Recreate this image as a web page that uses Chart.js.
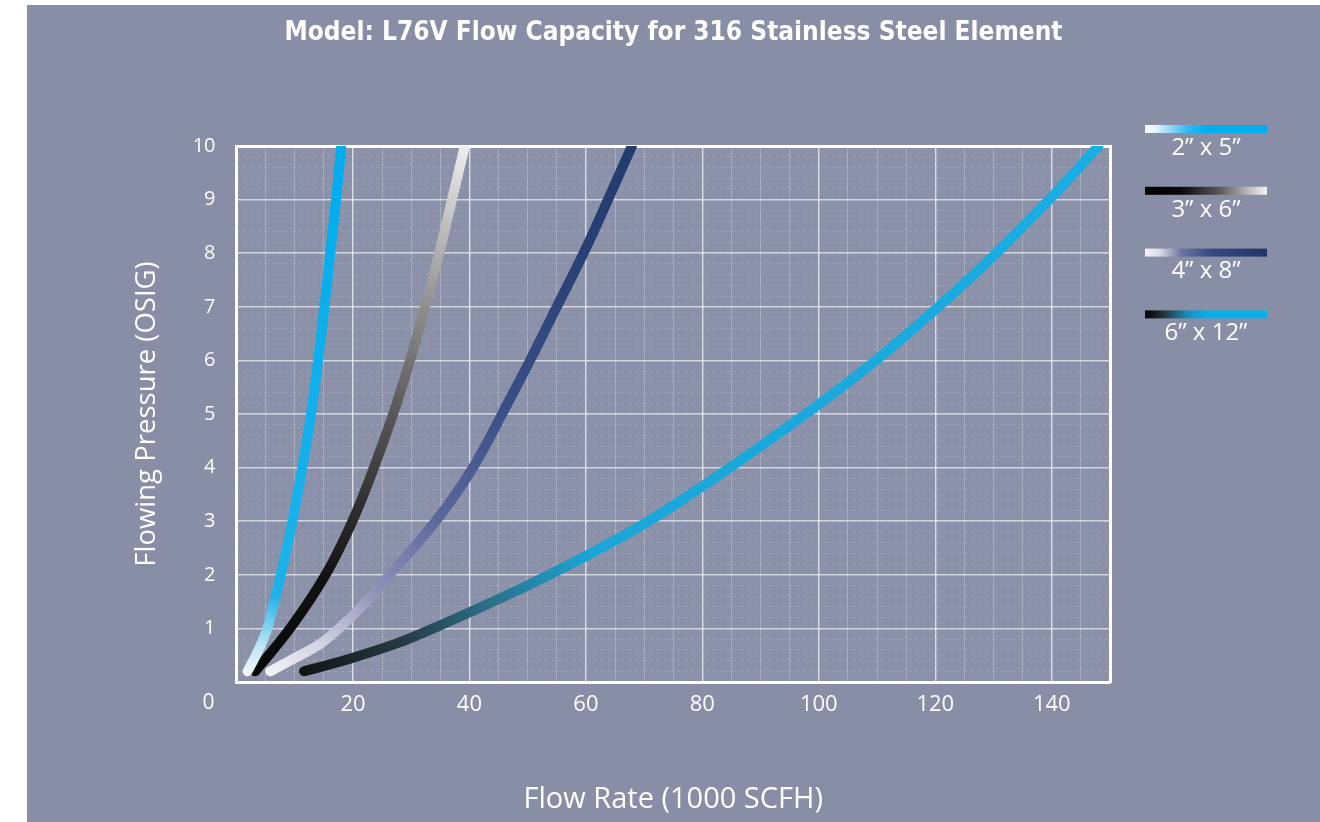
<!DOCTYPE html>
<html>
<head>
<meta charset="utf-8">
<script src="https://cdn.jsdelivr.net/npm/chart.js@4/dist/chart.umd.min.js"></script>
<style>
  html, body { margin: 0; padding: 0; background: #ffffff; }
  #panel { position: absolute; left: 27px; top: 5px; width: 1293px; height: 817px; background: #878ea5; }
</style>
</head>
<body>
<div id="panel"><canvas id="chart"></canvas></div>
<script>
// values, flow in 1000 SCFH, pressure in OSIG
const seriesNames = ['2\u201D x 5\u201D', '3\u201D x 6\u201D', '4\u201D x 8\u201D', '6\u201D x 12\u201D'];

const flow2x5 = [1.9, 3.8, 5.3, 6.5, 7.6, 9.6, 11.3, 12.8, 14.0, 15.1, 16.1, 17.1, 18.0];
const pressure2x5 = [0.2, 0.6, 1, 1.5, 2, 3, 4, 5, 6, 7, 8, 9, 10];

const flow3x6 = [3.2, 9.2, 15.3, 19.9, 23.6, 26.9, 29.8, 32.4, 34.8, 37.0, 39.2];
const pressure3x6 = [0.2, 1, 2, 3, 4, 5, 6, 7, 8, 9, 10];

const flow4x8 = [5.8, 9.2, 14.2, 17.6, 22.3, 26.3, 30.4, 34.2, 37.6, 40.6, 43.2, 45.6, 50.4, 55.0, 59.6, 63.8, 67.9];
const pressure4x8 = [0.2, 0.4, 0.7, 1, 1.5, 2, 2.5, 3, 3.5, 4, 4.5, 5, 6, 7, 8, 9, 10];

const flow6x12 = [11.6, 19, 27.5, 34.4, 40, 50, 60, 70, 80, 90, 100, 110, 120, 130, 140, 148];
const pressure6x12 = [0.2, 0.42, 0.72, 1.03, 1.3, 1.8, 2.35, 2.95, 3.65, 4.4, 5.18, 6.02, 6.95, 7.95, 9.05, 10];

const xTicks = [20, 40, 60, 80, 100, 120, 140];
const yTicks = [1, 2, 3, 4, 5, 6, 7, 8, 9, 10];

// gradient stops along each curve (start -> end) and along each legend swatch
const curveStops = [
  [[0, '#eef6f9'], [0.05, '#bfe5f3'], [0.15, '#1cb2ea'], [1, '#00adee']],
  [[0, '#080808'], [0.2, '#121212'], [0.36, '#343434'], [0.52, '#5a5a5a'], [0.7, '#8c8c8c'], [0.88, '#c6c6c6'], [1, '#eeeeee']],
  [[0, '#f2f2f6'], [0.08, '#d2d2e2'], [0.2, '#8f91b6'], [0.35, '#5b679c'], [0.55, '#3a4f88'], [0.8, '#2a4178'], [1, '#223a6c']],
  [[0, '#141414'], [0.1, '#243a42'], [0.2, '#2b7088'], [0.32, '#1aa6d8'], [1, '#18ade3']]
];
const legendStops = [
  [[0, '#ffffff'], [0.1, '#dcf1fa'], [0.35, '#2cbaf0'], [0.5, '#00aeef'], [1, '#00aeef']],
  [[0, '#000000'], [0.3, '#0a0a0a'], [0.6, '#555555'], [0.85, '#bbbbbb'], [1, '#f4f4f4']],
  [[0, '#f4f4f8'], [0.12, '#dcdce8'], [0.3, '#6c72a0'], [0.55, '#344a80'], [1, '#1f3566']],
  [[0, '#000000'], [0.15, '#22333a'], [0.35, '#1a8fb8'], [0.5, '#0aaee8'], [1, '#0aaee8']]
];

function points(xs, ys) {
  return xs.map((x, i) => ({ x: x, y: ys[i] }));
}

function curveColor(stops, xs, ys) {
  return function (context) {
    const chart = context.chart;
    const area = chart.chartArea;
    if (!area) return stops[stops.length - 1][1];
    const sx = chart.scales.x, sy = chart.scales.y;
    const g = chart.ctx.createLinearGradient(
      sx.getPixelForValue(xs[0]), sy.getPixelForValue(ys[0]),
      sx.getPixelForValue(xs[xs.length - 1]), sy.getPixelForValue(ys[ys.length - 1]));
    stops.forEach(s => g.addColorStop(s[0], s[1]));
    return g;
  };
}

const allFlow = [flow2x5, flow3x6, flow4x8, flow6x12];
const allPressure = [pressure2x5, pressure3x6, pressure4x8, pressure6x12];

const datasets = seriesNames.map((name, i) => ({
  label: name,
  data: points(allFlow[i], allPressure[i]),
  borderColor: curveColor(curveStops[i], allFlow[i], allPressure[i]),
  borderWidth: 10,
  borderCapStyle: 'round',
  borderJoinStyle: 'round',
  tension: 0.4,
  pointRadius: 0,
  fill: false,
  clip: { left: 8, top: 0, right: 8, bottom: 8 }
}));

// plot background, the lone "0" in the corner, and the gradient legend
const extras = {
  id: 'extras',
  beforeDraw(chart) {
    const { ctx, chartArea } = chart;
    ctx.save();
    ctx.fillStyle = '#8a91a8';
    ctx.fillRect(chartArea.left, chartArea.top, chartArea.right - chartArea.left, chartArea.bottom - chartArea.top);
    ctx.restore();
  },
  afterDraw(chart) {
    const { ctx, chartArea } = chart;
    ctx.save();
    ctx.fillStyle = '#ffffff';
    ctx.font = '21px "Open Sans", sans-serif';
    ctx.textAlign = 'right';
    ctx.textBaseline = 'middle';
    ctx.fillText('0', chartArea.left - 22, chartArea.bottom + 21);

    const lx0 = 1118, lx1 = 1240;
    chart.data.datasets.forEach((ds, i) => {
      const y = 124 + i * 61.8;
      const g = ctx.createLinearGradient(lx0, 0, lx1, 0);
      legendStops[i].forEach(s => g.addColorStop(s[0], s[1]));
      ctx.fillStyle = g;
      ctx.fillRect(lx0, y - 4, lx1 - lx0, 8);
      ctx.fillStyle = '#ffffff';
      ctx.font = '24px "Open Sans", sans-serif';
      ctx.textAlign = 'center';
      ctx.textBaseline = 'middle';
      ctx.fillText(ds.label, (lx0 + lx1) / 2, y + 19);
    });
    ctx.restore();
  }
};

new Chart(document.getElementById('chart'), {
  type: 'line',
  data: { datasets: datasets },
  plugins: [extras],
  options: {
    responsive: true,
    maintainAspectRatio: false,
    animation: false,
    layout: { padding: 0 },
    plugins: {
      legend: { display: false },
      tooltip: { enabled: false },
      title: {
        display: true,
        text: 'Model: L76V Flow Capacity for 316 Stainless Steel Element',
        color: '#ffffff',
        font: { family: "'Liberation Sans Narrow', 'DejaVu Sans Condensed', sans-serif", size: 26, weight: 'bold', lineHeight: 1.2 },
        padding: { top: 13, bottom: 96.8 }
      }
    },
    scales: {
      x: {
        type: 'linear',
        position: 'bottom',
        min: 0,
        max: 150,
        afterFit(scale) { scale.height = 140; },
        afterBuildTicks(scale) { scale.ticks = [0].concat(xTicks).concat([150]).map(v => ({ value: v })); },
        ticks: {
          color: '#ffffff',
          font: { family: "'Open Sans', sans-serif", size: 22 },
          padding: 10,
          maxRotation: 0,
          callback: v => (xTicks.includes(v) ? String(v) : '')
        },
        grid: { color: 'rgba(255,255,255,0.6)', lineWidth: 1.5, drawTicks: false },
        border: { color: '#ffffff', width: 3 },
        title: { display: true, text: 'Flow Rate (1000 SCFH)', color: '#ffffff', font: { family: "'Open Sans', sans-serif", size: 29 }, padding: { top: 0, bottom: 4.6 } }
      },
      y: {
        type: 'linear',
        position: 'left',
        min: 0,
        max: 10,
        afterFit(scale) { scale.width = 209.5; },
        afterBuildTicks(scale) { scale.ticks = [0].concat(yTicks).map(v => ({ value: v })); },
        ticks: {
          color: '#ffffff',
          font: { family: "'Open Sans', sans-serif", size: 20 },
          padding: 21,
          callback: v => (yTicks.includes(v) ? String(v) : '')
        },
        grid: { color: 'rgba(255,255,255,0.6)', lineWidth: 1.5, drawTicks: false },
        border: { color: '#ffffff', width: 3 },
        title: { display: true, text: 'Flowing Pressure (OSIG)', color: '#ffffff', font: { family: "'Open Sans', sans-serif", size: 27.5 }, padding: { top: 103.5, bottom: 0 } }
      },
      xMinor: {
        type: 'linear',
        position: 'top',
        min: 0,
        max: 150,
        ticks: { display: false, stepSize: 5 },
        grid: { color: 'rgba(255,255,255,0.24)', lineWidth: 1, drawTicks: false },
        border: { color: '#ffffff', width: 3 }
      },
      yMinor: {
        type: 'linear',
        position: 'right',
        min: 0,
        max: 10,
        afterFit(scale) { scale.width = 210; },
        ticks: { display: false, stepSize: 0.2 },
        grid: { color: 'rgba(255,255,255,0.2)', lineWidth: 1, drawTicks: false },
        border: { color: '#ffffff', width: 3, dash: [3, 4] }
      }
    }
  }
});
</script>
</body>
</html>
